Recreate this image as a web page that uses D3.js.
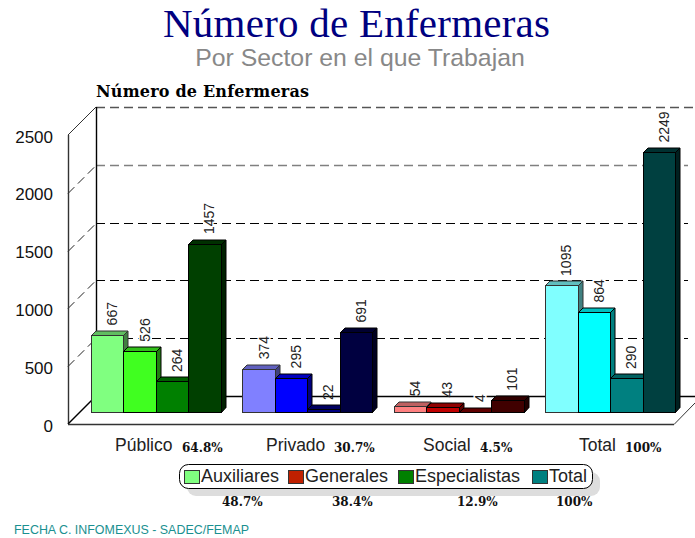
<!DOCTYPE html>
<html>
<head>
<meta charset="utf-8">
<script src="https://cdn.jsdelivr.net/npm/d3@7"></script>
<style>
  html, body { margin: 0; padding: 0; background: #fff; }
  svg { display: block; }
  text { font-family: "Liberation Sans", Arial, sans-serif; }
  .serif { font-family: "Liberation Serif", serif; }
  .pct { font-family: "DejaVu Serif", serif; font-weight: bold; font-size: 12px; fill: #111; }
  .axis text { font-size: 17px; fill: #111; }
</style>
</head>
<body>
<svg id="chart" width="695" height="538"></svg>
<script>
var categories = ["Público", "Privado", "Social", "Total"];
var categoryPct = ["64.8%", "30.7%", "4.5%", "100%"];
var seriesNames = ["Auxiliares", "Generales", "Especialistas", "Total"];
var seriesPct = ["48.7%", "38.4%", "12.9%", "100%"];
var auxiliares = [667, 374, 54, 1095];
var generales = [526, 295, 43, 864];
var especialistas = [264, 22, 4, 290];
var totales = [1457, 691, 101, 2249];
var yTicks = [0, 500, 1000, 1500, 2000, 2500];

// one row of colours per sector
var barColors = [
  ["#80ff80", "#40ff20", "#008000", "#004000"],
  ["#8080ff", "#0000ff", "#000080", "#000040"],
  ["#ff8080", "#c00000", "#800000", "#400000"],
  ["#80ffff", "#00ffff", "#008080", "#004040"]
];
var legendColors = ["#80ff80", "#c02000", "#008000", "#008080"];

var svg = d3.select("#chart");

var plotH = 289, wallX = 68, wallBottom = 424, depth = 28, barBase = 412, barDepth = 4.5;

var yWall = d3.scaleLinear().domain([0, 2500]).range([wallBottom, wallBottom - plotH]);
var yBar = d3.scaleLinear().domain([0, 2500]).range([barBase, barBase - plotH]);

var x0 = d3.scaleBand().domain(categories).range([91, 675]).paddingInner(0.144);
var x1 = d3.scaleBand().domain(seriesNames).range([0, x0.bandwidth()]);

function shade(c, k) {
  var r = d3.rgb(c);
  return d3.rgb(r.r * k, r.g * k, r.b * k).formatHex();
}
function crisp(v) { return Math.round(v) + 0.5; }

// titles
svg.append("text").attr("class", "serif")
  .attr("x", 356.5).attr("y", 37).attr("text-anchor", "middle")
  .attr("textLength", 387)
  .style("font-size", "41px").style("fill", "#000080")
  .text("Número de Enfermeras");

svg.append("text")
  .attr("x", 360).attr("y", 66).attr("text-anchor", "middle")
  .style("font-size", "24.8px").style("fill", "#888")
  .text("Por Sector en el que Trabajan");

svg.append("text")
  .attr("x", 96).attr("y", 97)
  .style("font-family", "'DejaVu Serif', serif").style("font-weight", "bold")
  .style("font-size", "16px").style("fill", "#000")
  .attr("textLength", 213)
  .text("Número de Enfermeras");

// walls and grid
var walls = svg.append("g").attr("fill", "none");

function wallLine(x1v, y1v, x2v, y2v, color, w, dash) {
  walls.append("line")
    .attr("x1", x1v).attr("y1", y1v).attr("x2", x2v).attr("y2", y2v)
    .attr("stroke", color).attr("stroke-width", w)
    .attr("stroke-dasharray", dash || null);
}

yTicks.slice(1).forEach(function (t) {
  var y = crisp(yWall(t));
  var top = t === 2500;
  var gray = t === 2000;
  wallLine(wallX + depth, y - depth, top ? 695 : 688, y - depth,
    top ? "#555" : (gray ? "#808080" : "#000"), top || gray ? 1.6 : 1, "9 5");
  if (!top) wallLine(wallX, y, wallX + depth, y - depth, "#222", 1, "9 5");
});

wallLine(wallX + 0.5, wallBottom, wallX + 0.5, wallBottom - plotH, "#333", 1.4);
wallLine(wallX + depth + 0.5, wallBottom - depth, wallX + depth + 0.5, wallBottom - plotH - depth, "#000", 1.4);
wallLine(wallX, wallBottom - plotH, wallX + depth, wallBottom - plotH - depth, "#333", 1);
wallLine(wallX, wallBottom, wallX + depth, wallBottom - depth, "#000", 1.4);
wallLine(wallX + depth, wallBottom - depth + 0.5, 695, wallBottom - depth + 0.5, "#000", 1.4);
wallLine(wallX, wallBottom + 0.5, 674, wallBottom + 0.5, "#333", 1.4);
wallLine(674, wallBottom + 0.5, 695, wallBottom - 21, "#333", 1);

// y axis labels
svg.append("g")
  .attr("class", "axis")
  .attr("transform", "translate(53,0)")
  .call(d3.axisLeft(yWall).tickValues(yTicks).tickSize(0).tickPadding(0).tickFormat(d3.format("d")))
  .call(function (g) { g.select(".domain").remove(); })
  .call(function (g) { g.selectAll("text").attr("dy", "0.42em"); });

// bars
var seriesValues = [auxiliares, generales, especialistas, totales];
var barData = [];
categories.forEach(function (c, ci) {
  seriesNames.forEach(function (s, si) {
    barData.push({ cat: c, ci: ci, series: s, si: si, value: seriesValues[si][ci] });
  });
});

var bars = svg.selectAll(".bar").data(barData).enter().append("g").attr("class", "bar");

function barLeft(d) { return crisp(x0(d.cat) + x1(d.series)); }
function barRight(d) { return crisp(x0(d.cat) + x1(d.series) + x1.bandwidth()); }
function barTop(d) { return crisp(yBar(d.value)); }
function stroke(d) { return d.si === 0 ? "#333" : "#000"; }

bars.append("path") // right side
  .attr("d", function (d) {
    var r = barRight(d), t = barTop(d);
    return "M" + r + "," + t + "L" + (r + barDepth) + "," + (t - barDepth) +
      "L" + (r + barDepth) + "," + (barBase - barDepth) + "L" + r + "," + (barBase + 0.5) + "Z";
  })
  .attr("fill", function (d) { return shade(barColors[d.ci][d.si], 0.5); })
  .attr("stroke", stroke);

bars.append("path") // top
  .attr("d", function (d) {
    var l = barLeft(d), r = barRight(d), t = barTop(d);
    return "M" + l + "," + t + "L" + (l + barDepth) + "," + (t - barDepth) +
      "L" + (r + barDepth) + "," + (t - barDepth) + "L" + r + "," + t + "Z";
  })
  .attr("fill", function (d) { return shade(barColors[d.ci][d.si], 0.75); })
  .attr("stroke", stroke);

bars.append("rect") // front
  .attr("x", barLeft)
  .attr("y", barTop)
  .attr("width", function (d) { return barRight(d) - barLeft(d); })
  .attr("height", function (d) { return barBase + 0.5 - barTop(d); })
  .attr("fill", function (d) { return barColors[d.ci][d.si]; })
  .attr("stroke", stroke);

// value labels, turned 90 degrees. They knock the grid out behind them,
// but the floor line still runs through the low ones
svg.selectAll(".val").data(barData).enter().append("text")
  .attr("class", "val")
  .attr("transform", function (d) {
    var cx = x0(d.cat) + x1(d.series) + x1.bandwidth() / 2 + 5;
    return "translate(" + cx + "," + (yBar(d.value) - 9.5) + ") rotate(-90)";
  })
  .attr("dy", "0.35em")
  .style("font-size", "14px").style("fill", "#222")
  .style("paint-order", "stroke")
  .style("stroke", function (d) { return d.value > 4 && d.value < 60 ? "none" : "#fff"; })
  .style("stroke-width", "3px")
  .text(function (d) { return d.value; });

// sector labels under the chart
var catX = [115, 266, 423, 579];
var catPctX = [182, 334, 480, 625];
svg.selectAll(".cat").data(categories).enter().append("text")
  .attr("class", "cat")
  .attr("x", function (d, i) { return catX[i]; }).attr("y", 451)
  .style("font-size", "17.5px").style("fill", "#222")
  .text(function (d) { return d; });

svg.selectAll(".catpct").data(categoryPct).enter().append("text")
  .attr("class", "pct")
  .attr("x", function (d, i) { return catPctX[i]; }).attr("y", 452)
  .text(function (d) { return d; });

// legend
svg.append("rect").attr("x", 187).attr("y", 472).attr("width", 413).attr("height", 24)
  .attr("rx", 9).attr("fill", "#ddd");
svg.append("rect").attr("x", 179.5).attr("y", 464.5).attr("width", 413).attr("height", 24)
  .attr("rx", 9).attr("fill", "#fff").attr("stroke", "#000");

var swatchX = [184, 288, 398, 532];
var legend = svg.selectAll(".leg").data(seriesNames).enter().append("g").attr("class", "leg")
  .attr("transform", function (d, i) { return "translate(" + swatchX[i] + ",0)"; });

legend.append("rect")
  .attr("x", 0.5).attr("y", 470.5).attr("width", 15).attr("height", 13)
  .attr("fill", function (d, i) { return legendColors[i]; })
  .attr("stroke", "#333");

legend.append("text")
  .attr("x", 17).attr("y", 482)
  .style("font-size", "18px").style("fill", "#222")
  .text(function (d) { return d; });

var seriesPctX = [222, 332, 457, 556];
svg.selectAll(".serpct").data(seriesPct).enter().append("text")
  .attr("class", "pct")
  .attr("x", function (d, i) { return seriesPctX[i]; }).attr("y", 506)
  .text(function (d) { return d; });

// source note
svg.append("text")
  .attr("x", 14).attr("y", 534)
  .attr("textLength", 235).attr("lengthAdjust", "spacingAndGlyphs")
  .style("font-size", "13px").style("fill", "#1a9090")
  .text("FECHA C. INFOMEXUS - SADEC/FEMAP");
</script>
</body>
</html>
